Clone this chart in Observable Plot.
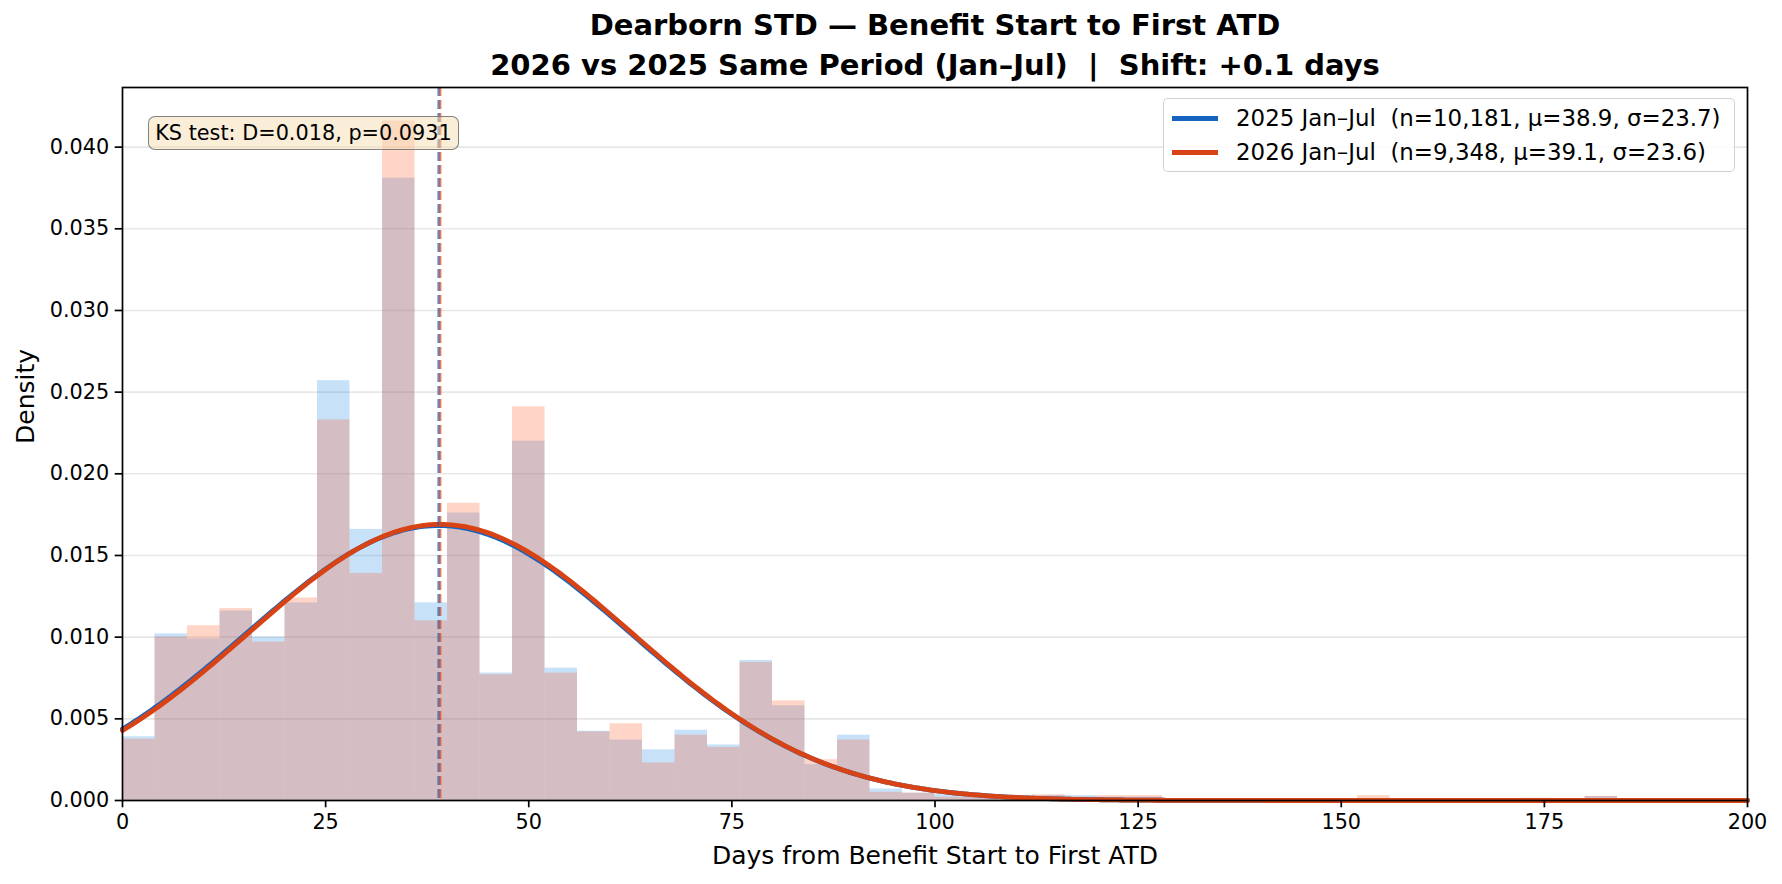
<!DOCTYPE html>
<html>
<head>
<meta charset="utf-8">
<script src="https://cdn.jsdelivr.net/npm/d3@7"></script>
<script src="https://cdn.jsdelivr.net/npm/@observablehq/plot@0.6"></script>
<style>
  html, body { margin: 0; padding: 0; background: #fff; overflow: hidden; }
  #wrap { position: relative; width: 1782px; height: 884px; font-family: "DejaVu Sans", sans-serif; }
  #legend { position: absolute; left: 1163px; top: 98px; width: 572px; height: 74px;
    border: 1.5px solid rgba(204,204,204,0.9); border-radius: 5px; background: rgba(255,255,255,0.8); box-sizing: border-box; }
  .row { position: absolute; left: 0; height: 30px; display: flex; align-items: center; white-space: pre; font-size: 22.9px; color: #000; }
  .swatch { display: inline-block; width: 46px; height: 5px; margin-left: 8px; margin-right: 18px; }
  #ks { position: absolute; left: 148px; top: 116px; width: 311px; height: 34px; box-sizing: border-box;
    border: 1.8px solid rgba(110,110,110,0.85); border-radius: 7px; background: rgba(245,222,179,0.5);
    font-size: 20.8px; display: flex; align-items: center; justify-content: center; white-space: pre; color: #000; }
</style>
</head>
<body>
<div id="wrap"></div>
<script>
// ---- data ----
const binStarts = [0,4,8,12,16,20,24,28,32,36,40,44,48,52,56,60,64,68,72,76,80,84,88,92,96,100,104,108,112,116,120,124,128,132,136,140,144,148,152,156,160,164,168,172,176,180,184,188,192,196];
const binWidth = 4;
const density2025 = [0.0039,0.0102,0.0099,0.0116,0.0100,0.0121,0.0257,0.0166,0.0381,0.0121,0.0176,0.0078,0.0220,0.0081,0.00424,0.0037,0.0031,0.0043,0.0034,0.00857,0.0058,0.0022,0.0040,0.0007,0.00045,0.00035,0.0003,0.0002,0.0003,0.0003,0.0002,0.0002,0.0001,0.0001,0.00005,0.0001,0.00005,0.0001,0.0001,0.00005,0.00005,0.0001,0.00005,0.00013,0.00005,0.00025,0.00005,0.00005,0.00005,0.0001];
const density2026 = [0.00375,0.0100,0.0107,0.01175,0.0097,0.0124,0.0233,0.0139,0.0416,0.0110,0.0182,0.0077,0.0241,0.0078,0.0042,0.0047,0.0023,0.0040,0.00325,0.00845,0.0061,0.0025,0.0037,0.0005,0.00045,0.0002,0.0003,0.0002,0.00035,0.0002,0.0003,0.0003,0.0001,0.00005,0.0001,0.00005,0.00005,0.0001,0.0003,0.0001,0.00005,0.00005,0.00005,0.00013,0.00005,0.00025,0.00005,0.0001,0.00005,0.00005];
const seriesLabels = ["2025 Jan–Jul", "2026 Jan–Jul"];
const seriesN = ["10,181", "9,348"];
const seriesMu = [38.9, 39.1];
const seriesSigma = [23.7, 23.6];
const barColors = ["#1E88E5", "#FF5722"];
const lineColors = ["#1565C0", "#D84315"];
const xTicks = [0,25,50,75,100,125,150,175,200];
const yTicks = [0,0.005,0.010,0.015,0.020,0.025,0.030,0.035,0.040];
const titleLines = ["Dearborn STD — Benefit Start to First ATD", "2026 vs 2025 Same Period (Jan–Jul)  |  Shift: +0.1 days"];
const xLabel = "Days from Benefit Start to First ATD";
const yLabel = "Density";
const ksText = "KS test: D=0.018, p=0.0931";

// ---- derived tables ----
const densities = [density2025, density2026];
const bars = densities.map(ds => binStarts.map((b, i) => ({x1: b, x2: b + binWidth, y: ds[i]})));
const xGrid = d3.range(0, 200.01, 0.5);
const curves = seriesMu.map((mu, k) => {
  const s = seriesSigma[k];
  return xGrid.map(x => ({x, y: Math.exp(-0.5 * ((x - mu) / s) ** 2) / (s * Math.sqrt(2 * Math.PI))}));
});

const font = "DejaVu Sans, sans-serif";
const plot = Plot.plot({
  width: 1782,
  height: 884,
  marginLeft: 122,
  marginRight: 35,
  marginTop: 87,
  marginBottom: 84,
  style: {fontFamily: font, color: "#000", background: "#fff"},
  x: {domain: [0, 200]},
  y: {domain: [0, 0.04365]},
  marks: [
    Plot.ruleY(yTicks, {stroke: "#b0b0b0", strokeOpacity: 0.3, strokeWidth: 1.6}),
    ...bars.map((bs, k) => Plot.rect(bs, {x1: "x1", x2: "x2", y1: 0, y2: "y", fill: barColors[k], fillOpacity: 0.25, inset: 0})),
    ...curves.map((c, k) => Plot.line(c, {x: "x", y: "y", stroke: lineColors[k], strokeWidth: 4.8})),
    ...seriesMu.map((mu, k) => Plot.ruleX([mu], {stroke: lineColors[k], strokeOpacity: 0.7, strokeWidth: 2.4, strokeDasharray: "9,4"})),
    Plot.frame({stroke: "#000", strokeWidth: 1.7}),
    Plot.axisX({ticks: xTicks, tickSize: 7.3, tickPadding: 6, fontSize: 20.8, label: null, strokeWidth: 1.7}),
    Plot.axisY({ticks: yTicks, tickFormat: d3.format(".3f"), tickSize: 7.3, tickPadding: 6, fontSize: 20.8, label: null, strokeWidth: 1.7}),
    Plot.text([titleLines[0]], {frameAnchor: "top", dy: -62, text: d => d, fontSize: 29, fontWeight: "bold", lineAnchor: "middle"}),
    Plot.text([titleLines[1]], {frameAnchor: "top", dy: -22, text: d => d, fontSize: 29, fontWeight: "bold", lineAnchor: "middle"}),
    Plot.text([xLabel], {frameAnchor: "bottom", dy: 55, text: d => d, fontSize: 25, lineAnchor: "middle"}),
    Plot.text([yLabel], {frameAnchor: "left", dx: -97, rotate: -90, text: d => d, fontSize: 25, lineAnchor: "middle"})
  ]
});

const wrap = document.getElementById("wrap");
wrap.appendChild(plot);

const legend = document.createElement("div");
legend.id = "legend";
seriesLabels.forEach((lab, k) => {
  const row = document.createElement("div");
  row.className = "row";
  row.style.top = (k === 0 ? 4 : 38) + "px";
  const sw = document.createElement("span");
  sw.className = "swatch";
  sw.style.background = lineColors[k];
  row.appendChild(sw);
  row.appendChild(document.createTextNode(`${lab}  (n=${seriesN[k]}, μ=${seriesMu[k].toFixed(1)}, σ=${seriesSigma[k].toFixed(1)})`));
  legend.appendChild(row);
});
wrap.appendChild(legend);

const ks = document.createElement("div");
ks.id = "ks";
ks.textContent = ksText;
wrap.appendChild(ks);
</script>
</body>
</html>
